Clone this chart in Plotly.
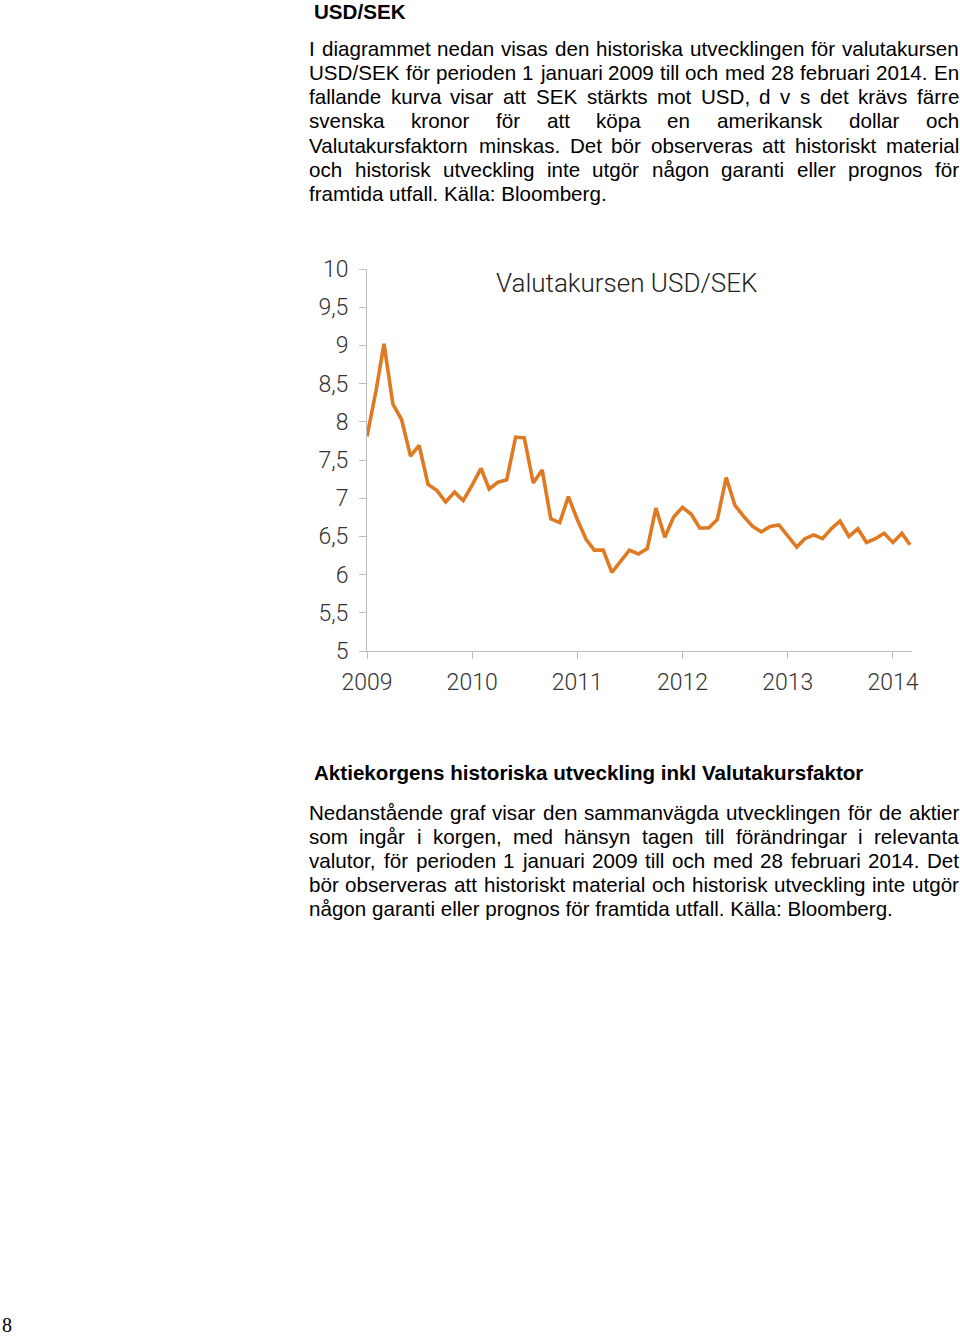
import plotly.graph_objects as go
import pandas as pd

# ---------------- data ----------------
months = pd.date_range("2009-01-01", "2014-03-01", freq="MS").strftime("%Y-%m-%d").tolist()
usd_sek = [
    7.81, 8.40, 9.02, 8.23, 8.03, 7.55, 7.69, 7.18, 7.10, 6.95, 7.08, 6.97,
    7.17, 7.39, 7.12, 7.21, 7.24, 7.80, 7.79, 7.20, 7.37, 6.73, 6.68, 7.02,
    6.72, 6.46, 6.32, 6.32, 6.03, 6.18, 6.32, 6.27, 6.34, 6.87, 6.49, 6.75,
    6.88, 6.79, 6.61, 6.61, 6.72, 7.27, 6.91, 6.76, 6.63, 6.56, 6.63, 6.65,
    6.51, 6.36, 6.47, 6.52, 6.47, 6.60, 6.70, 6.50, 6.60, 6.42, 6.47, 6.54,
    6.42, 6.54, 6.39,
]
y_tickvals = [5, 5.5, 6, 6.5, 7, 7.5, 8, 8.5, 9, 9.5, 10]
y_ticktext = ["5", "5,5", "6", "6,5", "7", "7,5", "8", "8,5", "9", "9,5", "10"]
x_tickvals = ["2009-01-01", "2010-01-01", "2011-01-01", "2012-01-01", "2013-01-01", "2014-01-01"]
x_ticktext = ["2009", "2010", "2011", "2012", "2013", "2014"]

chart_title = "Valutakursen USD/SEK"
heading1 = "USD/SEK"
para1 = [
    "I diagrammet nedan visas den historiska utvecklingen för valutakursen",
    "USD/SEK för perioden 1 januari 2009 till och med 28 februari 2014. En",
    "fallande kurva visar att SEK stärkts mot USD, d v s det krävs färre",
    "svenska kronor för att köpa en amerikansk dollar och",
    "Valutakursfaktorn minskas. Det bör observeras att historiskt material",
    "och historisk utveckling inte utgör någon garanti eller prognos för",
    "framtida utfall. Källa: Bloomberg.",
]
heading2 = "Aktiekorgens historiska utveckling inkl Valutakursfaktor"
para2 = [
    "Nedanstående graf visar den sammanvägda utvecklingen för de aktier",
    "som ingår i korgen, med hänsyn tagen till förändringar i relevanta",
    "valutor, för perioden 1 januari 2009 till och med 28 februari 2014. Det",
    "bör observeras att historiskt material och historisk utveckling inte utgör",
    "någon garanti eller prognos för framtida utfall. Källa: Bloomberg.",
]
page_number = "8"

# ---------------- page geometry ----------------
PW, PH = 960, 1337
def px(x):
    return x / PW
def py(y):
    return 1 - y / PH

# Arial / Liberation Sans advance widths (1/1000 em)
AW = {" ": 278, "a": 556, "b": 556, "c": 500, "d": 556, "e": 556, "f": 278, "g": 556,
      "h": 556, "i": 222, "j": 222, "k": 500, "l": 222, "m": 833, "n": 556, "o": 556,
      "p": 556, "q": 556, "r": 333, "s": 500, "t": 278, "u": 556, "v": 500, "w": 722,
      "x": 500, "y": 500, "z": 500, "å": 556, "ä": 556, "ö": 556,
      "A": 667, "B": 667, "C": 722, "D": 722, "E": 667, "F": 611, "G": 778, "H": 722,
      "I": 278, "J": 500, "K": 667, "L": 556, "M": 833, "N": 722, "O": 778, "P": 667,
      "R": 722, "S": 667, "T": 611, "U": 722, "V": 667, "W": 944,
      ",": 278, ".": 278, ":": 278, "/": 278, "-": 333}
def tw(s, size):
    return sum(AW.get(c, 556) for c in s) / 1000.0 * size

BODY = "Liberation Sans, Arial, sans-serif"
FS = 20.6
LEFT, RIGHT = 308, 958

annotations = []
def add_text(text, x, y, size=FS, bold=False, family=BODY, xanchor="left", color="#000000", weight=None):
    annotations.append(dict(
        text=text, x=px(x), y=py(y), xref="paper", yref="paper",
        xanchor=xanchor, yanchor="middle", showarrow=False, borderpad=0,
        font=dict(family=family, size=size, color=color,
                  weight=weight if weight is not None else ("bold" if bold else "normal")),
    ))

def add_paragraph(lines, y0, step=24):
    for i, line in enumerate(lines):
        y = y0 + i * step
        if i == len(lines) - 1:
            add_text(line, LEFT, y)
            continue
        words = line.split(" ")
        total = sum(tw(w, FS) for w in words)
        gap = (RIGHT - LEFT - total) / (len(words) - 1)
        x = LEFT
        for w in words:
            add_text(w, x, y)
            x += tw(w, FS) + gap

add_text(heading1, 313, 11.5, bold=True)
add_paragraph(para1, 49)
add_text(heading2, 313, 772, bold=True)
add_paragraph(para2, 812)
add_text(page_number, 1, 1325, size=20, family="Liberation Serif, serif")

# chart title
add_text(chart_title, 495, 283, size=26, family="Roboto", color="#222222", weight=300)

# ---------------- figure ----------------
fig = go.Figure()
fig.add_trace(go.Scatter(
    x=months, y=usd_sek, mode="lines",
    line=dict(color="#E07A22", width=3.6),
    hoverinfo="skip", showlegend=False,
))

axis_grey = "#BDBDBD"
fig.update_layout(
    width=PW, height=PH,
    margin=dict(l=0, r=0, t=0, b=0, autoexpand=False),
    paper_bgcolor="white", plot_bgcolor="white",
    showlegend=False,
    annotations=annotations,
    xaxis=dict(
        domain=[px(367), px(912)],
        type="date",
        range=["2009-01-01", "2014-03-08"],
        tickvals=x_tickvals, ticktext=x_ticktext,
        showgrid=False, zeroline=False, automargin=False,
        showline=True, linecolor=axis_grey, linewidth=1,
        ticks="outside", ticklen=7, tickcolor=axis_grey, tickwidth=1,
        tickfont=dict(family="Roboto", size=23, color="#333333", weight=300),
        ticklabelstandoff=3,
    ),
    yaxis=dict(
        domain=[py(651), py(269)],
        range=[5, 10],
        tickvals=y_tickvals, ticktext=y_ticktext,
        showgrid=False, zeroline=False, automargin=False,
        showline=True, linecolor=axis_grey, linewidth=1,
        ticks="outside", ticklen=7, tickcolor=axis_grey, tickwidth=1,
        tickfont=dict(family="Roboto", size=23, color="#333333", weight=300),
        ticklabelstandoff=6,
    ),
)

fig.write_html("out.html", config={"displayModeBar": False},
               post_script="document.body.style.margin='0';")
